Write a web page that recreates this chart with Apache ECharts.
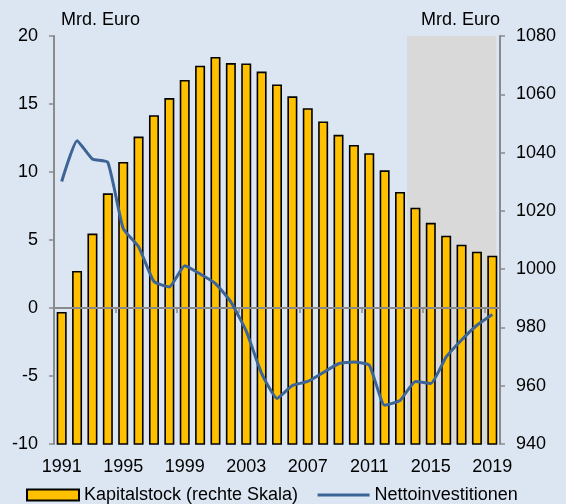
<!DOCTYPE html>
<html>
<head>
<meta charset="utf-8">
<script src="https://cdn.jsdelivr.net/npm/echarts@6/dist/echarts.min.js"></script>
<style>
  html, body { margin: 0; padding: 0; background: #dce6f2; }
  #chart { width: 566px; height: 504px; }
</style>
</head>
<body>
<div id="chart"></div>
<script>
// Jahre (Kategorien)
const years = ['1991', '1992', '1993', '1994', '1995', '1996', '1997', '1998', '1999', '2000',
  '2001', '2002', '2003', '2004', '2005', '2006', '2007', '2008', '2009', '2010',
  '2011', '2012', '2013', '2014', '2015', '2016', '2017', '2018', '2019']
// Kapitalstock, Mrd. Euro (rechte Skala)
const kapitalstock = [985.3, 999.4, 1012.2, 1026.0, 1036.8, 1045.5, 1052.8, 1058.7, 1064.9, 1069.8,
  1072.8, 1070.7, 1070.6, 1067.8, 1063.4, 1059.3, 1055.2, 1050.7, 1046.1, 1042.6,
  1039.8, 1033.9, 1026.5, 1021.1, 1015.9, 1011.5, 1008.4, 1006.0, 1004.6]
// Nettoinvestitionen, Mrd. Euro (linke Skala)
const nettoinvestitionen = [9.3, 12.3, 10.95, 10.7, 5.85, 4.5, 1.95, 1.55, 3.1, 2.5,
  1.8, 0.45, -1.7, -4.8, -6.65, -5.7, -5.4, -4.75, -4.1, -3.97,
  -4.2, -7.15, -6.8, -5.4, -5.55, -3.6, -2.35, -1.27, -0.48]
// grau hinterlegter Zeitraum (Projektion)
const shadeRange = [2013.45, 2019.25]

const font = 'Liberation Sans, Arial, sans-serif'
const axisGray = '#8a8a8a'
const fs = 18

let myChart = echarts.init(document.getElementById('chart'))

let option = {
  backgroundColor: '#dce6f2',
  textStyle: { fontFamily: font, color: '#000' },
  grid: { left: 54, right: 66, top: 36, bottom: 60 },
  legend: {
    top: 486,
    left: 26,
    padding: 0,
    itemWidth: 52,
    itemHeight: 11,
    itemGap: 18,
    textStyle: { fontSize: fs, color: '#000', fontFamily: font },
    data: [
      { name: 'Kapitalstock (rechte Skala)', icon: 'rect' },
      // nur Linie, kein Punkt im Legendensymbol
      { name: 'Nettoinvestitionen', itemStyle: { opacity: 0 }, lineStyle: { width: 3 } }
    ]
  },
  xAxis: [
    {
      // Nulllinie mit Strichen
      type: 'category',
      data: years,
      z: 3,
      axisLine: { onZero: true, onZeroAxisIndex: 0, lineStyle: { color: axisGray, width: 2 } },
      axisTick: { show: true, interval: 3, length: 5, lineStyle: { color: axisGray, width: 1.5 } },
      axisLabel: { show: false }
    },
    {
      // Beschriftung unten
      type: 'category',
      data: years,
      position: 'bottom',
      axisLine: { show: false, onZero: false },
      axisTick: { show: false },
      axisLabel: { interval: 3, margin: 14, fontSize: fs, color: '#000', fontFamily: font }
    },
    {
      // nur für die graue Fläche
      type: 'value',
      min: 1990.5,
      max: 2019.5,
      show: false
    }
  ],
  yAxis: [
    {
      type: 'value',
      min: -10,
      max: 20,
      interval: 5,
      name: 'Mrd. Euro',
      nameGap: 7,
      nameTextStyle: { fontSize: fs, color: '#000', align: 'left', padding: [0, 0, 0, 7], fontFamily: font },
      axisLine: { show: true, lineStyle: { color: axisGray, width: 2 } },
      axisTick: { show: true, length: 5, lineStyle: { color: axisGray, width: 1.5 } },
      axisLabel: { margin: 16, fontSize: fs, color: '#000', fontFamily: font },
      splitLine: { show: false }
    },
    {
      type: 'value',
      min: 940,
      max: 1080,
      interval: 20,
      position: 'right',
      name: 'Mrd. Euro',
      nameGap: 7,
      nameTextStyle: { fontSize: fs, color: '#000', align: 'right', fontFamily: font },
      axisLine: { show: true, lineStyle: { color: axisGray, width: 2 } },
      axisTick: { show: true, length: 5, lineStyle: { color: axisGray, width: 1.5 } },
      axisLabel: { margin: 16, fontSize: fs, color: '#000', fontFamily: font, formatter: (v) => String(v) },
      splitLine: { show: false }
    }
  ],
  series: [
    {
      name: 'shade',
      type: 'line',
      xAxisIndex: 2,
      yAxisIndex: 0,
      z: 1,
      data: [],
      silent: true,
      markArea: {
        silent: true,
        itemStyle: { color: '#d9d9d9' },
        data: [[{ xAxis: shadeRange[0] }, { xAxis: shadeRange[1] }]]
      }
    },
    {
      name: 'Kapitalstock (rechte Skala)',
      type: 'bar',
      xAxisIndex: 0,
      yAxisIndex: 1,
      z: 2,
      barWidth: 10,
      data: kapitalstock,
      itemStyle: { color: '#ffc000', borderColor: '#000', borderWidth: 1.6 }
    },
    {
      name: 'Nettoinvestitionen',
      type: 'line',
      xAxisIndex: 0,
      yAxisIndex: 0,
      z: 5,
      data: nettoinvestitionen,
      symbol: 'none',
      smooth: 0.15,
      lineStyle: { color: '#3d6496', width: 3 },
      itemStyle: { color: '#3d6496' }
    }
  ]
}

myChart.setOption(option)
</script>
</body>
</html>
